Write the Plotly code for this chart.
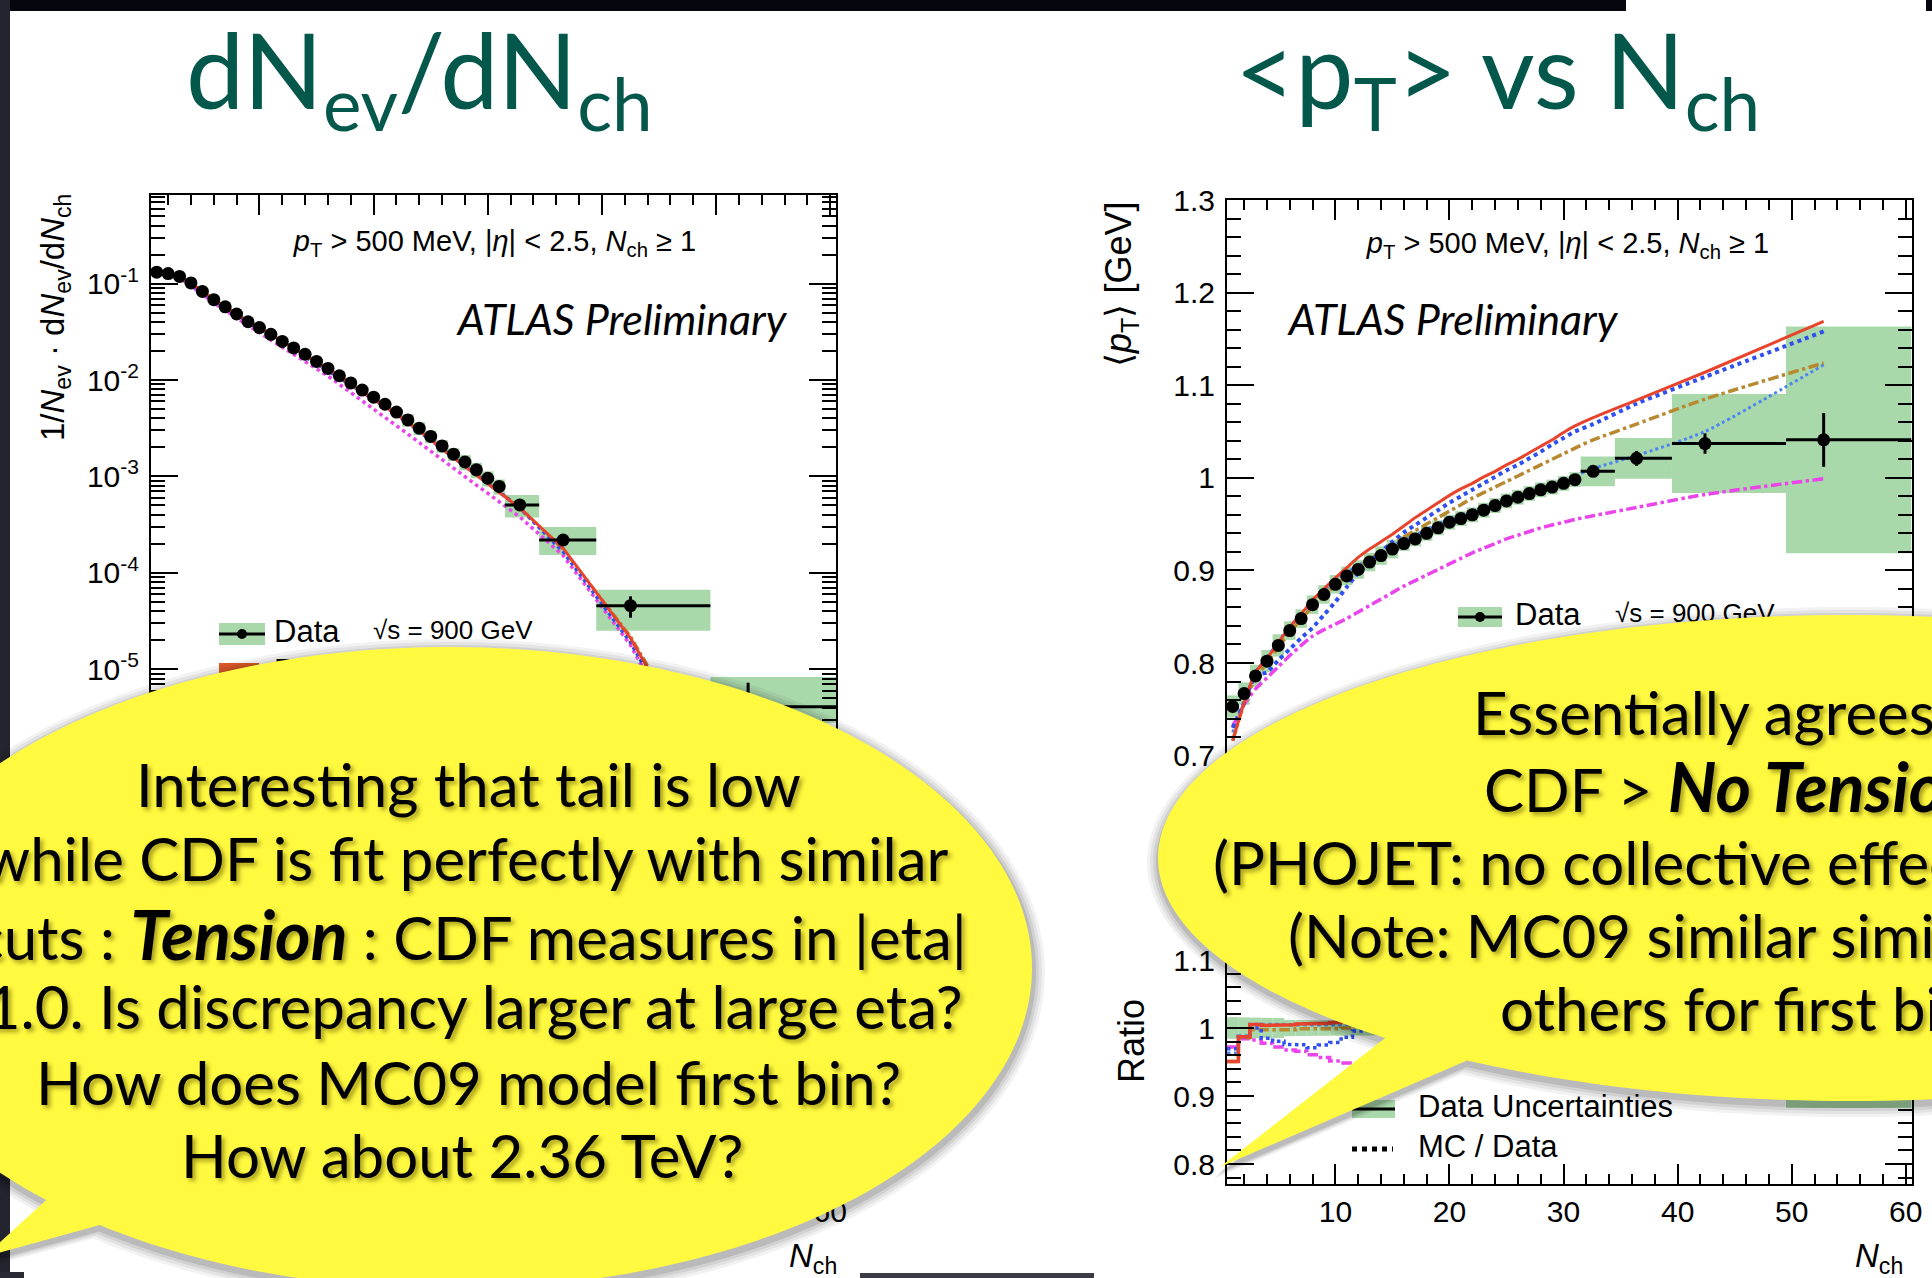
import math
import plotly.graph_objects as go

W, H = 1932, 1278

# ---------------- data ----------------
nch_dense = [1, 2, 3, 4, 5, 6, 7, 8, 9, 10, 11, 12, 13, 14, 15, 16, 17, 18, 19, 20,
             21, 22, 23, 24, 25, 26, 27, 28, 29, 30, 31]
nch_left = nch_dense + [32.8, 36.6, 42.5, 52.8]
nch_right = nch_dense + [32.6, 36.4, 42.4, 52.8]
bin_lo = [n - 0.5 for n in nch_dense] + [31.5, 34.5, 39.5, 49.5]
bin_hi = [n + 0.5 for n in nch_dense] + [34.5, 39.5, 49.5, 60.5]

# 1/Nev dNev/dNch
dist_data = [0.1315, 0.127, 0.1186, 0.1016, 0.0830, 0.0681, 0.0574, 0.0484, 0.0402, 0.0350,
             0.0298, 0.0251, 0.0215, 0.0185, 0.0156, 0.0132, 0.01107, 0.00933, 0.00787, 0.00664,
             0.00560, 0.00465, 0.00385, 0.00316, 0.00260, 0.00207, 0.00170, 0.00141, 0.00117,
             0.000957, 0.000787, 0.000506, 0.000219, 4.56e-5, 4.07e-6]
dist_unc_up = [0.04, 0.04, 0.04, 0.04, 0.04, 0.04, 0.04, 0.04, 0.04, 0.04, 0.04, 0.04, 0.04,
               0.04, 0.04, 0.08, 0.08, 0.08, 0.08, 0.08, 0.08, 0.08, 0.15, 0.15, 0.15, 0.15,
               0.15, 0.18, 0.18, 0.18, 0.18, 0.27, 0.36, 0.46, 1.04]
dist_unc_dn = [0.04, 0.04, 0.04, 0.04, 0.04, 0.04, 0.04, 0.04, 0.04, 0.04, 0.04, 0.04, 0.04,
               0.04, 0.04, 0.08, 0.08, 0.08, 0.08, 0.08, 0.08, 0.08, 0.15, 0.15, 0.15, 0.15,
               0.15, 0.18, 0.18, 0.18, 0.18, 0.26, 0.30, 0.45, 0.32]
dist_stat = [0.01, 0.01, 0.01, 0.01, 0.01, 0.01, 0.01, 0.01, 0.01, 0.01, 0.01, 0.01, 0.01,
             0.01, 0.01, 0.01, 0.01, 0.01, 0.01, 0.01, 0.01, 0.01, 0.01, 0.01, 0.01, 0.01,
             0.01, 0.01, 0.01, 0.01, 0.01, 0.05, 0.10, 0.25, 0.78]
dist_mc09 = [0.128, 0.126, 0.117, 0.101, 0.0835, 0.0685, 0.0578, 0.0487, 0.0404, 0.0350,
             0.0297, 0.0250, 0.0213, 0.0182, 0.0153, 0.0129, 0.0108, 0.00905, 0.00760, 0.00637,
             0.00535, 0.00442, 0.00362, 0.00296, 0.00241, 0.00192, 0.00156, 0.00127, 0.00104,
             0.000840, 0.000680, 0.000470, 0.000180, 2.1e-5, 1.6e-7]
dist_dw = [0.142, 0.133, 0.119, 0.100, 0.082, 0.067, 0.0565, 0.0475, 0.0395, 0.0340,
           0.0290, 0.0245, 0.0209, 0.0178, 0.0150, 0.0126, 0.0106, 0.0089, 0.0075, 0.0063,
           0.0053, 0.0044, 0.0036, 0.00295, 0.0024, 0.00193, 0.00157, 0.00128, 0.00105,
           0.00085, 0.00069, 0.00047, 0.000165, 1.9e-5, 1.3e-7]
dist_perugia = [0.130, 0.127, 0.118, 0.1015, 0.0832, 0.0683, 0.0576, 0.0485, 0.0403, 0.0351,
                0.0298, 0.0251, 0.0214, 0.0184, 0.0155, 0.0131, 0.0110, 0.0092, 0.0078, 0.0065,
                0.0055, 0.0045, 0.0037, 0.0030, 0.00246, 0.00196, 0.00160, 0.00130, 0.00107,
                0.00087, 0.00070, 0.00048, 0.000175, 2.2e-5, 1.8e-7]
dist_phojet = [0.138, 0.129, 0.115, 0.0955, 0.0776, 0.0631, 0.0525, 0.0437, 0.0363, 0.0309,
               0.0260, 0.0219, 0.0182, 0.0155, 0.0130, 0.0110, 0.00902, 0.00741, 0.00617, 0.00501,
               0.00412, 0.00339, 0.00275, 0.00224, 0.00182, 0.00148, 0.00120, 0.000989, 0.000813,
               0.000668, 0.000550, 0.000380, 0.000151, 1.78e-5, 1.0e-7]

# <pT> vs Nch
pt_data = [0.753, 0.767, 0.786, 0.802, 0.819, 0.835, 0.848, 0.863, 0.874, 0.885,
           0.894, 0.901, 0.909, 0.916, 0.923, 0.929, 0.934, 0.940, 0.946, 0.952,
           0.956, 0.960, 0.965, 0.970, 0.975, 0.979, 0.983, 0.987, 0.990, 0.994, 0.998,
           1.007, 1.021, 1.037, 1.041]
pt_unc = [0.012, 0.012, 0.012, 0.012, 0.012, 0.010, 0.010, 0.010, 0.010, 0.010, 0.010, 0.010,
          0.010, 0.010, 0.010, 0.008, 0.008, 0.008, 0.008, 0.008, 0.008, 0.008, 0.008, 0.008,
          0.008, 0.008, 0.008, 0.008, 0.008, 0.008, 0.008, 0.016, 0.022, 0.0535, 0.1225]
pt_stat = [0.002, 0.002, 0.002, 0.002, 0.002, 0.002, 0.002, 0.002, 0.002, 0.002, 0.002, 0.002,
           0.002, 0.002, 0.002, 0.002, 0.002, 0.002, 0.002, 0.002, 0.002, 0.002, 0.002, 0.002,
           0.002, 0.002, 0.002, 0.002, 0.002, 0.002, 0.002, 0.005, 0.008, 0.011, 0.029]
pt_mc09 = [0.716, 0.757, 0.790, 0.805, 0.822, 0.839, 0.853, 0.868, 0.880, 0.892,
           0.903, 0.914, 0.923, 0.931, 0.939, 0.948, 0.957, 0.965, 0.973, 0.981,
           0.988, 0.994, 1.001, 1.007, 1.014, 1.020, 1.027, 1.034, 1.041, 1.049, 1.056,
           1.065, 1.084, 1.114, 1.169]
pt_dw = [0.730, 0.757, 0.786, 0.790, 0.803, 0.815, 0.827, 0.838, 0.852, 0.866,
         0.882, 0.897, 0.909, 0.920, 0.931, 0.941, 0.949, 0.957, 0.965, 0.973,
         0.980, 0.987, 0.994, 1.001, 1.008, 1.014, 1.021, 1.028, 1.036, 1.043, 1.050,
         1.058, 1.080, 1.109, 1.158]
pt_perugia = [0.716, 0.756, 0.784, 0.800, 0.817, 0.833, 0.847, 0.861, 0.873, 0.884,
              0.894, 0.903, 0.912, 0.920, 0.928, 0.936, 0.943, 0.950, 0.957, 0.964,
              0.971, 0.978, 0.984, 0.990, 0.996, 1.002, 1.008, 1.014, 1.020, 1.026, 1.032,
              1.041, 1.058, 1.085, 1.124]
pt_pythia8 = [0.725, 0.758, 0.790, 0.806, 0.823, 0.839, 0.852, 0.867, 0.878, 0.889,
              0.898, 0.905, 0.913, 0.920, 0.927, 0.933, 0.938, 0.944, 0.950, 0.956,
              0.960, 0.964, 0.969, 0.974, 0.979, 0.983, 0.987, 0.991, 0.994, 0.998, 1.002,
              1.010, 1.024, 1.050, 1.122]
pt_phojet = [0.732, 0.755, 0.772, 0.784, 0.796, 0.808, 0.819, 0.829, 0.836, 0.842,
             0.848, 0.855, 0.862, 0.869, 0.876, 0.883, 0.889, 0.895, 0.901, 0.907,
             0.913, 0.919, 0.924, 0.929, 0.934, 0.938, 0.942, 0.946, 0.949, 0.952, 0.955,
             0.959, 0.968, 0.982, 0.999]

left_bubble_lines = ["Interesting that tail is low",
                     "while CDF is fit perfectly with similar",
                     "cuts : <b><i><span style='font-size:68px'>Tension</span></i></b> : CDF measures in |eta|",
                     "&lt;1.0. Is discrepancy larger at large eta?",
                     "How does MC09 model first bin?",
                     "How about 2.36 TeV?"]
right_bubble_lines = ["Essentially agrees with",
                      "CDF &gt; <b><i><span style='font-size:68px'>No Tension</span></i></b>",
                      "(PHOJET: no collective effects)",
                      "(Note: MC09 similar similar to",
                      "others for first bin)"]

# ---------------- styles / geometry ----------------
GREEN = "#a9d8ab"
TEAL = "#03574b"
YELLOW = "#fff940"
ROOTFONT = "Liberation Sans"
C_RED, C_BLUE, C_BROWN, C_LBLUE, C_MAG = "#e8432c", "#2f4ff0", "#b78a32", "#4c86f2", "#ea45ea"

L_X0, L_X1 = 151, 836
R_X0, R_X1 = 1227, 1911.5
L_TOP, R_TOP, SPLIT, BOT = 195, 200, 880, 1184
DEC_PX, Y_E1 = 96.4, 283.6          # left log axis calibration
PT_PX, RAT_PX, RAT_ONE = 926.0, 680.0, 1028.0


def xd(a, b):
    return [a / W, b / W]


def yd(top, bottom):
    return [1 - bottom / H, 1 - top / H]


def pp(x, y):
    return x / W, 1 - y / H


fig = go.Figure()

# ---------- left main ----------
c_l = [(a + b) / 2 for a, b in zip(bin_lo, bin_hi)]
w_l = [b - a for a, b in zip(bin_lo, bin_hi)]
fig.add_trace(go.Bar(x=c_l, width=w_l,
                     base=[d * (1 - dn) for d, dn in zip(dist_data, dist_unc_dn)],
                     y=[d * (1 + up) - d * (1 - dn) for d, up, dn in zip(dist_data, dist_unc_up, dist_unc_dn)],
                     marker=dict(color=GREEN, line=dict(width=0)), xaxis="x", yaxis="y",
                     hoverinfo="skip"))
for ys, col, dash, wd in [(dist_phojet, C_MAG, "dot", 3.5), (dist_perugia, C_BROWN, "dashdot", 3),
                          (dist_dw, C_BLUE, "dot", 3.5), (dist_mc09, C_RED, "solid", 3)]:
    fig.add_trace(go.Scatter(x=nch_left, y=ys, mode="lines", line=dict(color=col, dash=dash, width=wd),
                             xaxis="x", yaxis="y", hoverinfo="skip"))
fig.add_trace(go.Scatter(
    x=nch_left, y=dist_data, mode="markers",
    marker=dict(color="black", size=13),
    error_x=dict(type="data", array=[h - x for h, x in zip(bin_hi, nch_left)],
                 arrayminus=[x - l for l, x in zip(bin_lo, nch_left)], color="black", thickness=3, width=0),
    error_y=dict(type="data", array=[d * s for d, s in zip(dist_data, dist_stat)],
                 arrayminus=[d * s for d, s in zip(dist_data, dist_stat)], color="black", thickness=3, width=0),
    xaxis="x", yaxis="y", hoverinfo="skip"))

# ---------- left ratio ----------
fig.add_trace(go.Bar(x=c_l, width=w_l, base=[1 - dn for dn in dist_unc_dn],
                     y=[up + dn for up, dn in zip(dist_unc_up, dist_unc_dn)],
                     marker=dict(color=GREEN, line=dict(width=0)), xaxis="x2", yaxis="y2", hoverinfo="skip"))


def steps(mc, data):
    xs, ys = [], []
    for lo, hi, m, d in zip(bin_lo, bin_hi, mc, data):
        xs += [lo, hi]
        ys += [m / d, m / d]
    return xs, ys


for ys, col, dash in [(dist_phojet, C_MAG, "dot"), (dist_perugia, C_BROWN, "dashdot"),
                      (dist_dw, C_BLUE, "dot"), (dist_mc09, C_RED, "solid")]:
    sx, sy = steps(ys, dist_data)
    fig.add_trace(go.Scatter(x=sx, y=sy, mode="lines", line=dict(color=col, dash=dash, width=3),
                             xaxis="x2", yaxis="y2", hoverinfo="skip"))

# ---------- right main ----------
fig.add_trace(go.Bar(x=c_l, width=w_l, base=[d - u for d, u in zip(pt_data, pt_unc)],
                     y=[2 * u for u in pt_unc],
                     marker=dict(color=GREEN, line=dict(width=0)), xaxis="x3", yaxis="y3", hoverinfo="skip"))
for ys, col, dash, wd in [(pt_phojet, C_MAG, "dashdot", 3.5), (pt_pythia8, C_LBLUE, "dot", 3),
                          (pt_perugia, C_BROWN, "dashdot", 3.5), (pt_dw, C_BLUE, "dot", 4),
                          (pt_mc09, C_RED, "solid", 3)]:
    fig.add_trace(go.Scatter(x=nch_right, y=ys, mode="lines",
                             line=dict(color=col, dash=dash, width=wd, shape="spline", smoothing=0.6),
                             xaxis="x3", yaxis="y3", hoverinfo="skip"))
fig.add_trace(go.Scatter(
    x=nch_right, y=pt_data, mode="markers",
    marker=dict(color="black", size=13),
    error_x=dict(type="data", array=[h - x for h, x in zip(bin_hi, nch_right)],
                 arrayminus=[x - l for l, x in zip(bin_lo, nch_right)], color="black", thickness=3, width=0),
    error_y=dict(type="data", array=pt_stat, color="black", thickness=3, width=0),
    xaxis="x3", yaxis="y3", hoverinfo="skip"))

# ---------- right ratio ----------
fig.add_trace(go.Bar(x=c_l, width=w_l, base=[1 - u / d for u, d in zip(pt_unc, pt_data)],
                     y=[2 * u / d for u, d in zip(pt_unc, pt_data)],
                     marker=dict(color=GREEN, line=dict(width=0)), xaxis="x4", yaxis="y4", hoverinfo="skip"))
for ys, col, dash in [(pt_phojet, C_MAG, "dashdot"), (pt_pythia8, C_LBLUE, "dot"),
                      (pt_perugia, C_BROWN, "dashdot"), (pt_dw, C_BLUE, "dot"), (pt_mc09, C_RED, "solid")]:
    sx, sy = steps(ys, pt_data)
    fig.add_trace(go.Scatter(x=sx, y=sy, mode="lines", line=dict(color=col, dash=dash, width=3.5),
                             xaxis="x4", yaxis="y4", hoverinfo="skip"))


# ---------- in-plot texts (overlay pixel axes, drawn under the bubbles) ----------
def txt(x, y, s, size, pos="middle center", family=ROOTFONT, color="black"):
    fig.add_trace(go.Scatter(x=[x], y=[y], mode="text", text=[s], textposition=pos,
                             textfont=dict(family=family, size=size, color=color),
                             xaxis="x5", yaxis="y5", hoverinfo="skip", cliponaxis=False))


cut_label = "<i>p</i><sub>T</sub> &gt; 500 MeV, |<i>η</i>| &lt; 2.5, <i>N</i><sub>ch</sub> ≥ 1"
txt(495, 244, cut_label, 29)
txt(1568, 246, cut_label, 29)
txt(622, 324, "<i>ATLAS Preliminary</i>", 43, family="Lato")
txt(1453, 324, "<i>ATLAS Preliminary</i>", 43, family="Lato")
txt(274, 634, "Data", 31, "middle right")
txt(373, 632, "√s = 900 GeV", 26, "middle right")
txt(274, 673, "PYTHIA ATLAS MC09", 31, "middle right")
txt(1515, 617, "Data", 31, "middle right")
txt(1615, 615, "√s = 900 GeV", 26, "middle right")
txt(1418, 1109, "Data Uncertainties", 31, "middle right")
txt(1418, 1149, "MC / Data", 31, "middle right")

# ---------- axes ----------
tickfont = dict(family=ROOTFONT, size=30, color="black")


def xaxis(x0, x1, anchor, labels):
    return dict(domain=xd(x0, x1), anchor=anchor, range=[0.5, 60.5], tick0=0, dtick=10,
                ticks="inside", ticklen=20, tickwidth=2, tickcolor="black",
                showline=True, linecolor="black", linewidth=2, mirror="allticks",
                showgrid=False, zeroline=False, showticklabels=labels, tickfont=tickfont,
                automargin=False,
                minor=dict(ticks="inside", ticklen=10, tickwidth=2, tickcolor="black",
                           tick0=0, dtick=2, showgrid=False),
                fixedrange=True)


def yaxis_lin(top, bottom, anchor, rng, dtick, minor_dtick):
    return dict(domain=yd(top, bottom), anchor=anchor, range=rng, tick0=0, dtick=dtick,
                ticks="inside", ticklen=27, tickwidth=2, tickcolor="black",
                showline=True, linecolor="black", linewidth=2, mirror="allticks",
                showgrid=False, zeroline=False, tickfont=tickfont, ticklabelstandoff=4,
                automargin=False,
                minor=dict(ticks="inside", ticklen=14, tickwidth=2, tickcolor="black",
                           tick0=0, dtick=minor_dtick, showgrid=False),
                fixedrange=True)


left_log_range = [-1 - (SPLIT - Y_E1) / DEC_PX, -1 + (Y_E1 - L_TOP) / DEC_PX]
pt_range = [1.3 - (SPLIT - R_TOP) / PT_PX, 1.3]
rat_range = [1 - (BOT - RAT_ONE) / RAT_PX, 1 + (RAT_ONE - SPLIT) / RAT_PX]
log_tickvals = [1e-7, 1e-6, 1e-5, 1e-4, 1e-3, 1e-2, 1e-1]
log_ticktext = ["10<sup>-7</sup>", "10<sup>-6</sup>", "10<sup>-5</sup>", "10<sup>-4</sup>",
                "10<sup>-3</sup>", "10<sup>-2</sup>", "10<sup>-1</sup>"]

layout = dict(
    width=W, height=H, autosize=False,
    margin=dict(l=0, r=0, t=0, b=0, pad=0, autoexpand=False),
    paper_bgcolor="white", plot_bgcolor="rgba(0,0,0,0)", showlegend=False,
    barmode="overlay",
    xaxis=xaxis(L_X0, L_X1, "y", False),
    xaxis2=xaxis(L_X0, L_X1, "y2", True),
    xaxis3=xaxis(R_X0, R_X1, "y3", False),
    xaxis4=xaxis(R_X0, R_X1, "y4", True),
    yaxis=dict(domain=yd(L_TOP, SPLIT), anchor="x", type="log", range=left_log_range,
               tickvals=log_tickvals, ticktext=log_ticktext,
               ticks="inside", ticklen=27, tickwidth=2, tickcolor="black",
               showline=True, linecolor="black", linewidth=2, mirror="allticks",
               showgrid=False, zeroline=False, tickfont=tickfont, ticklabelstandoff=4,
               automargin=False,
               minor=dict(ticks="inside", ticklen=14, tickwidth=2, tickcolor="black",
                          dtick="D1", showgrid=False),
               fixedrange=True),
    yaxis2=yaxis_lin(SPLIT, BOT, "x2", [0.4, 1.6], 0.5, 0.1),
    yaxis3=yaxis_lin(R_TOP, SPLIT, "x3", pt_range, 0.1, 0.02),
    yaxis4=yaxis_lin(SPLIT, BOT, "x4", rat_range, 0.1, 0.02),
    xaxis5=dict(domain=[0, 1], anchor="y5", range=[0, W], visible=False, fixedrange=True,
                automargin=False),
    yaxis5=dict(domain=[0, 1], anchor="x5", range=[H, 0], visible=False, fixedrange=True,
                automargin=False),
)
fig.update_layout(**layout)

# ---------- shapes ----------
shapes = []


def rect(x0, y0, x1, y1, color, layer="below", opacity=1.0):
    a, b = pp(x0, y0)
    c, d = pp(x1, y1)
    shapes.append(dict(type="rect", xref="paper", yref="paper", x0=a, x1=c, y0=d, y1=b,
                       fillcolor=color, line=dict(width=0), layer=layer, opacity=opacity))


def seg(x0, y0, x1, y1, color, width, dash="solid"):
    a, b = pp(x0, y0)
    c, d = pp(x1, y1)
    shapes.append(dict(type="line", xref="paper", yref="paper", x0=a, y0=b, x1=c, y1=d,
                       line=dict(color=color, width=width, dash=dash), layer="below"))


def dot(x, y, r, color):
    a, b = pp(x - r, y - r)
    c, d = pp(x + r, y + r)
    shapes.append(dict(type="circle", xref="paper", yref="paper", x0=a, x1=c, y0=d, y1=b,
                       fillcolor=color, line=dict(width=0), layer="below"))


# slide frame (dark screen border)
rect(0, 0, 1626, 11, "#06060f")
rect(1926, 0, W, 11, "#06060f")
rect(0, 0, 10, H, "#24242f")
rect(0, 1272, 24, H, "#2a2a34")
rect(860, 1273, 1094, H, "#3b3b44")

# legend glyphs
rect(219, 623, 265, 645, GREEN)
seg(219, 634, 265, 634, "black", 3)
dot(242, 634, 5, "black")
rect(219, 663, 259, 685, "#e05a2b")
rect(1458, 607, 1502, 627, GREEN)
seg(1458, 617, 1502, 617, "black", 3)
dot(1480, 617, 5, "black")
rect(1352, 1100, 1395, 1118, GREEN)
seg(1352, 1109, 1395, 1109, "black", 3)
seg(1352, 1149, 1393, 1149, "black", 5, "dot")


def bubble(cx, cy, rx, ry, th_lo, th_hi, tip, grow=0.0, dx=0.0, dy=0.0):
    pts = []
    a0, a1 = math.radians(th_hi), math.radians(th_lo + 360)
    n = 240
    for k in range(n + 1):
        a = a0 + (a1 - a0) * k / n
        pts.append((cx + dx + (rx + grow) * math.cos(a), cy + dy + (ry + grow) * math.sin(a)))
    pts.append((tip[0] + dx - 0.7 * grow, tip[1] + dy + 0.7 * grow))
    return "M " + " L ".join("%.5f,%.5f" % pp(x, y) for x, y in pts) + " Z"


bubbles = [dict(cx=449, cy=968, rx=583, ry=321, th_lo=126.8, th_hi=133.7, tip=(-16, 1257)),
           dict(cx=1850, cy=858, rx=692, ry=243, th_lo=123.6, th_hi=132.2, tip=(1220, 1167))]
for b in bubbles:
    for g, op in [(12, 0.05), (9, 0.06), (6, 0.08), (3, 0.11)]:
        shapes.append(dict(type="path", xref="paper", yref="paper", layer="above",
                           path=bubble(**b, grow=g, dx=1, dy=4), fillcolor="black",
                           opacity=op, line=dict(width=0)))
    shapes.append(dict(type="path", xref="paper", yref="paper", layer="above",
                       path=bubble(**b), fillcolor=YELLOW, line=dict(width=0)))
fig.update_layout(shapes=shapes)

# ---------- annotations (titles, axis titles, bubble text) ----------
ann = []


def note(x, y, s, size, family, color="black", xanchor="center", angle=0, shadow=None):
    f = dict(family=family, size=size, color=color)
    if shadow:
        f["shadow"] = shadow
    ann.append(dict(x=x, y=y, xref="x5", yref="y5", text=s, showarrow=False, xanchor=xanchor,
                    yanchor="middle", textangle=angle, font=f))


note(419, 76, "dN<sub>ev</sub>/dN<sub>ch</sub>", 104, "Lato", TEAL)
note(1497, 76, "&lt;p<sub>T</sub>&gt; vs N<sub>ch</sub>", 104, "Lato", TEAL)

note(55, 318, "1/<i>N</i><sub>ev</sub> · d<i>N</i><sub>ev</sub>/d<i>N</i><sub>ch</sub>", 33, ROOTFONT, angle=-90)
note(1121, 285, "⟨<i>p</i><sub>T</sub>⟩ [GeV]", 36, ROOTFONT, angle=-90)
note(1131, 1041, "Ratio", 36, ROOTFONT, angle=-90)
note(813, 1258, "<i>N</i><sub>ch</sub>", 33, ROOTFONT)
note(1879, 1258, "<i>N</i><sub>ch</sub>", 33, ROOTFONT)

SH = "3px 3px 4px rgba(110,100,0,0.6)"
left_base = [806, 880, 955, 1028, 1104, 1177]
left_anchor = [("center", 468), ("right", 951), ("right", 969), ("right", 965),
               ("center", 468), ("center", 462)]
for s, yb, (xa, xx) in zip(left_bubble_lines, left_base, left_anchor):
    note(xx, yb - 22, s, 60, "Lato", xanchor=xa, shadow=SH)

right_base = [734, 807, 884, 957, 1030]
right_start = [1471, 1482, 1211, 1286, 1498]
for s, yb, xx in zip(right_bubble_lines, right_base, right_start):
    note(xx, yb - 22, s, 60, "Lato", xanchor="left", shadow=SH)

fig.update_layout(annotations=ann)

fig.write_html("out.html")
